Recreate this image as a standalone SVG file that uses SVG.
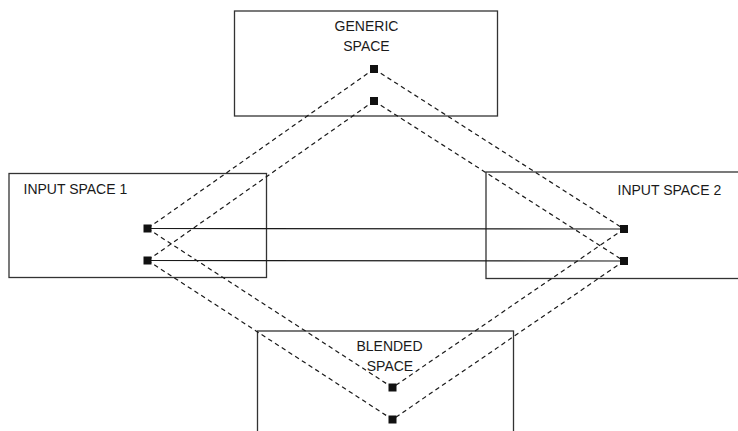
<svg xmlns="http://www.w3.org/2000/svg" width="738" height="431" viewBox="0 0 738 431">
<style>
.box{fill:none;stroke:#333;stroke-width:1.3}
.lbl{font-family:"Liberation Sans",Arial,Helvetica,sans-serif;font-size:14px;fill:#1a1a1a}
.mid{text-anchor:middle}
.dash{stroke:#1a1a1a;stroke-width:1.2;stroke-dasharray:4.5 3.5;fill:none}
.solid{stroke:#1a1a1a;stroke-width:1.2;fill:none}
.pt{fill:#111}
</style>
<rect x="0" y="0" width="738" height="431" fill="#fff"/>
<g id="generic-space">
<rect class="box" x="234.5" y="11" width="263" height="105"/>
<text class="lbl mid" x="366.5" y="30.5">GENERIC</text>
<text class="lbl mid" x="366.5" y="50.5">SPACE</text>
</g>
<g id="input-space-1">
<rect class="box" x="9" y="173.5" width="257.5" height="104"/>
<text class="lbl" x="23.5" y="194">INPUT SPACE 1</text>
</g>
<g id="input-space-2">
<rect class="box" x="486" y="172" width="260" height="106.5"/>
<text class="lbl" x="617.5" y="194.5">INPUT SPACE 2</text>
</g>
<g id="blended-space">
<rect class="box" x="257.5" y="331" width="256" height="120"/>
<text class="lbl mid" x="389.5" y="350.5">BLENDED</text>
<text class="lbl mid" x="390" y="370.5">SPACE</text>
</g>
<g id="connectors">
<line class="solid" x1="147.5" y1="228.5" x2="624" y2="229"/>
<line class="solid" x1="147.5" y1="260.5" x2="624" y2="261"/>
<line class="dash" x1="374" y1="69" x2="147.5" y2="228.5"/>
<line class="dash" x1="374" y1="69" x2="624" y2="229"/>
<line class="dash" x1="374" y1="101" x2="147.5" y2="260.5"/>
<line class="dash" x1="374" y1="101" x2="624" y2="261"/>
<line class="dash" x1="147.5" y1="228.5" x2="392.5" y2="387.5"/>
<line class="dash" x1="624" y1="229" x2="392.5" y2="387.5"/>
<line class="dash" x1="147.5" y1="260.5" x2="392.5" y2="419.5"/>
<line class="dash" x1="624" y1="261" x2="392.5" y2="419.5"/>
</g>
<g id="anchors">
<rect class="pt" x="370" y="65" width="8" height="8"/>
<rect class="pt" x="370" y="97" width="8" height="8"/>
<rect class="pt" x="143.5" y="224.5" width="8" height="8"/>
<rect class="pt" x="143.5" y="256.5" width="8" height="8"/>
<rect class="pt" x="620" y="225" width="8" height="8"/>
<rect class="pt" x="620" y="257" width="8" height="8"/>
<rect class="pt" x="388.5" y="383.5" width="8" height="8"/>
<rect class="pt" x="388.5" y="415.5" width="8" height="8"/>
</g>
</svg>
